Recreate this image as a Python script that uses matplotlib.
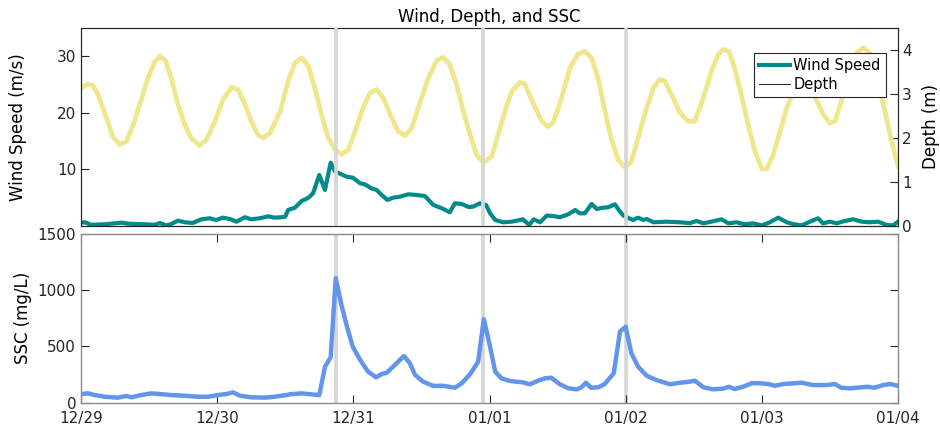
import numpy as np
import pandas as pd
import matplotlib
matplotlib.use('Agg')
import matplotlib.pyplot as plt
import matplotlib.dates as mdates
from matplotlib.lines import Line2D

plt.rcParams['font.family'] = 'DejaVu Sans'
plt.rcParams['font.size'] = 11

start = pd.Timestamp('2019-12-29')

# depth (m), right axis of top panel; time in hours after 12/29 00:00
depth_hours = [0.0, 1.2, 2.1, 3.0, 4.5, 5.6, 6.8, 8.0, 9.2, 10.6, 11.8, 13.0, 13.9, 14.9,
               15.9, 17.1, 18.3, 19.4, 20.9, 22.1, 23.6, 25.0, 26.5, 27.7, 28.9, 30.0, 31.2,
               32.1, 33.3, 35.1, 36.5, 37.7, 38.9, 40.1, 41.2, 42.4, 43.6, 44.8, 45.9, 47.1,
               48.3, 49.7, 50.9, 52.1, 53.3, 54.5, 55.9, 57.1, 58.3, 59.7, 61.2, 62.7, 63.8,
               65.0, 66.2, 67.4, 68.6, 69.7, 70.9, 72.4, 73.5, 74.7, 75.9, 77.4, 78.2, 79.7,
               81.2, 82.3, 83.2, 84.7, 86.2, 87.6, 88.8, 90.0, 91.2, 92.3, 93.5, 94.7, 95.9,
               97.0, 98.2, 99.7, 100.9, 102.0, 102.9, 104.1, 105.6, 107.0, 108.2, 109.7,
               111.1, 112.3, 113.2, 114.2, 115.2, 116.4, 117.6, 118.8, 120.0, 120.9, 122.0,
               123.2, 124.4, 125.5, 127.1, 128.5, 129.3, 130.8, 132.0, 132.9, 134.0, 135.5,
               136.7, 137.9, 139.0, 140.2, 141.7, 142.9, 144.0]
depth_m = [3.13, 3.23, 3.19, 2.98, 2.45, 2.03, 1.85, 1.92, 2.30, 2.87, 3.36, 3.74, 3.86, 3.76,
           3.36, 2.76, 2.30, 2.00, 1.83, 1.96, 2.38, 2.87, 3.15, 3.10, 2.76, 2.38, 2.07,
           2.00, 2.11, 2.60, 3.29, 3.71, 3.82, 3.63, 3.14, 2.53, 2.00, 1.73, 1.63, 1.73,
           2.15, 2.68, 3.02, 3.10, 2.91, 2.53, 2.15, 2.05, 2.23, 2.79, 3.36, 3.76, 3.83,
           3.67, 3.21, 2.60, 2.07, 1.62, 1.45, 1.58, 2.07, 2.60, 3.06, 3.27, 3.23, 2.79,
           2.38, 2.26, 2.34, 2.91, 3.59, 3.91, 3.97, 3.82, 3.33, 2.64, 1.96, 1.50, 1.33,
           1.46, 2.00, 2.68, 3.14, 3.33, 3.29, 2.98, 2.57, 2.38, 2.38, 2.91,
           3.51, 3.90, 4.01, 3.97, 3.59, 2.98, 2.30, 1.69, 1.30, 1.30, 1.62,
           2.15, 2.68, 3.05, 3.30, 3.10, 2.95, 2.55, 2.34, 2.38, 2.83, 3.51,
           3.93, 4.05, 3.93, 3.44, 2.60, 1.92, 1.36]

# wind speed (m/s), left axis of top panel
wind_hours = [0.0, 0.7, 1.8, 4.2, 7.1, 8.3, 11.2, 13.0, 13.9, 15.0, 15.9, 17.1, 18.3, 19.7,
              21.2, 22.7, 23.8, 25.0, 26.2, 27.4, 28.9, 30.0, 31.5, 33.0, 34.1, 35.3, 36.0,
              36.5, 37.7, 38.9, 40.1, 40.9, 42.0, 43.0, 44.0, 44.8, 45.5, 46.8, 47.9, 49.2,
              50.0, 51.2, 52.1, 53.0, 54.0, 55.0, 56.2, 57.7, 59.2, 60.6, 62.1, 63.6, 65.0,
              65.9, 67.1, 68.3, 69.1, 70.3, 71.4, 72.1, 73.0, 74.4, 75.9, 76.8, 77.9, 79.0,
              79.8, 80.9, 82.1, 83.2, 84.4, 85.9, 87.1, 87.9, 88.8, 90.0, 90.9, 92.0, 92.9,
              94.1, 95.0, 95.6, 96.6, 97.3, 98.2, 99.1, 99.7, 100.9, 103.2, 105.6, 107.3,
              108.5, 109.7, 111.1, 112.9, 114.1, 115.5, 117.0, 118.5, 120.0, 121.4, 122.9,
              124.4, 125.5, 127.0, 128.5, 129.9, 130.8, 132.0, 133.2, 134.6, 136.1, 137.6,
              139.0, 140.5, 142.0, 143.1, 144.0]
wind_ms = [0.58, 0.65, 0.2, 0.3, 0.58, 0.41, 0.3, 0.2, 0.53, 0.1, 0.35, 0.94, 0.65, 0.53,
           1.18, 1.36, 1.06, 1.47, 1.24, 0.76, 1.54, 1.18, 1.36, 1.71, 1.47, 1.54, 1.65,
           2.83, 3.24, 4.42, 5.0, 5.78, 9.02, 6.36, 11.19, 9.6, 9.31, 8.72, 8.54, 7.55,
           7.37, 6.66, 6.36, 5.48, 4.60, 5.0, 5.18, 5.6, 5.48, 5.30, 3.71, 3.13, 2.42,
           4.01, 3.89, 3.36, 3.42, 4.01, 3.71, 2.24, 1.06, 0.65, 0.76, 0.94, 1.18, 0.18,
           1.18, 0.65, 1.83, 1.77, 1.54, 2.07, 2.83, 2.24, 2.24, 3.89, 3.0, 3.24, 3.30,
           3.83, 2.53, 1.83, 1.36, 1.06, 1.47, 1.06, 1.24, 0.65, 0.76, 0.65, 0.5,
           0.88, 0.47, 0.76, 1.18, 0.47, 0.65, 0.3, 0.47, 0.1, 0.65, 1.47,
           0.65, 0.35, 0.1, 0.76, 1.36, 0.47, 0.76, 0.47, 0.88, 1.18, 0.76,
           0.65, 0.76, 0.18, 0.1, 0.76]

# suspended sediment concentration (mg/L), bottom panel
ssc_hours = [0.0, 1.2, 2.4, 4.2, 6.5, 8.0, 8.9, 10.6, 12.4, 13.9, 15.9, 18.3, 20.6, 22.4,
             24.1, 25.6, 26.8, 28.0, 30.0, 32.4, 34.1, 36.2, 36.8, 38.9, 40.4, 42.0, 43.0,
             44.0, 44.9, 45.9, 46.8, 47.9, 49.2, 50.6, 52.0, 53.0, 53.9, 55.0, 56.9, 57.9,
             58.9, 60.3, 62.1, 63.8, 65.9, 67.1, 68.6, 70.0, 71.0, 72.1, 73.0, 74.1, 75.6,
             77.9, 79.1, 80.6, 81.8, 82.9, 84.4, 85.9, 87.4, 88.2, 89.0, 89.9, 91.2, 92.3,
             93.9, 95.0, 96.0, 97.0, 98.2, 99.7, 101.4, 103.8, 105.6, 107.3, 108.2, 109.7,
             111.4, 113.2, 114.2, 115.2, 116.7, 118.2, 119.7, 121.1, 122.3, 123.8, 127.0,
             129.0, 131.4, 132.9, 134.0, 135.5, 138.7, 139.8, 141.4, 142.6, 144.0]
ssc_mgl = [77, 83, 68, 53, 45, 60, 48, 68, 83, 77, 68, 62, 53, 53,
           68, 77, 92, 62, 48, 45, 53, 68, 75, 83, 75, 68, 320,
           404, 1107, 869, 691, 498, 380, 276, 226, 255, 267, 320, 415, 356,
           246, 187, 149, 151, 133, 173, 255, 365, 742, 498, 276, 217, 193,
           181, 164, 196, 217, 222, 164, 128, 119, 137, 178, 133, 137, 166,
           262, 632, 676, 440, 320, 240, 202, 164, 178, 187, 196, 137,
           119, 125, 142, 122, 142, 173, 173, 166, 151, 166, 178,
           157, 157, 166, 133, 128, 142, 133, 157, 166, 151]

# event markers (hours after start)
event_hours = [44.9, 70.9, 96.0]

wind_color = '#008b8b'
depth_color = '#f0e68c'
ssc_color = '#6495ed'
event_color = '#d6d6d6'
ink = '#262626'


def to_time(hours):
    return start + pd.to_timedelta(np.asarray(hours, dtype=float), unit='h')


fig = plt.figure(figsize=(9.4, 4.32), dpi=100)
ax1 = fig.add_axes([0.0862, 0.4769, 0.8691, 0.4583])
ax1r = ax1.twinx()
ax2 = fig.add_axes([0.0862, 0.0678, 0.8691, 0.3905])

xmin, xmax = start, start + pd.Timedelta(days=6)

# top panel
ax1.plot(to_time(wind_hours), wind_ms, color=wind_color, lw=3.0, zorder=2)
ax1r.plot(to_time(depth_hours), depth_m, color=depth_color, lw=3.4, zorder=2)
for t in to_time(event_hours):
    ax1r.axvline(t, color=event_color, lw=2.6, zorder=4)

ax1.set_xlim(xmin, xmax)
ax1.set_ylim(0, 35)
ax1.set_yticks([10, 20, 30])
ax1r.set_ylim(0, 4.5)
ax1r.set_yticks([0, 1, 2, 3, 4])
ax1.set_xticks([])
ax1.tick_params(axis='y', direction='in', length=5.8, width=0.8, pad=3.5,
                colors=ink, labelsize=11)
ax1r.tick_params(axis='y', direction='in', length=5.8, width=0.8, pad=3,
                 colors=ink, labelsize=11)
ax1.set_ylabel('Wind Speed (m/s)', fontsize=12, color='black')
ax1.yaxis.set_label_coords(-0.066, 0.5)
ax1r.set_ylabel('Depth (m)', fontsize=12, color='black')
ax1r.yaxis.set_label_coords(1.029, 0.5)
ax1.set_title('Wind, Depth, and SSC', fontsize=12, pad=4)
for ax in (ax1, ax1r):
    for s in ax.spines.values():
        s.set_color(ink)
        s.set_linewidth(0.8)

handles = [Line2D([], [], color=wind_color, lw=3.0),
           Line2D([], [], color='black', lw=0.6)]
leg = ax1r.legend(handles, ['Wind Speed', 'Depth'], loc='upper right',
                  bbox_to_anchor=(0.985, 0.874), borderaxespad=0, fancybox=False,
                  framealpha=1, edgecolor=ink, fontsize=10.5, handlelength=2.1,
                  handletextpad=0.25, borderpad=0.35, labelspacing=0.25)
leg.get_frame().set_linewidth(0.8)
leg.set_zorder(10)

# bottom panel
for t in to_time(event_hours):
    ax2.axvline(t, color=event_color, lw=2.6, zorder=1)
ax2.plot(to_time(ssc_hours), ssc_mgl, color=ssc_color, lw=3.2, zorder=2)
ax2.set_xlim(xmin, xmax)
ax2.set_ylim(0, 1500)
ax2.set_yticks([0, 500, 1000, 1500])
ax2.xaxis.set_major_locator(mdates.DayLocator())
ax2.xaxis.set_major_formatter(mdates.DateFormatter('%m/%d'))
ax2.tick_params(axis='both', direction='in', length=5.8, width=0.8,
                colors=ink, labelsize=11, top=True, right=True)
ax2.tick_params(axis='x', pad=6)
ax2.tick_params(axis='y', pad=3.5)
ax2.set_ylabel('SSC (mg/L)', fontsize=12, color='black')
ax2.yaxis.set_label_coords(-0.060, 0.5)
for s in ax2.spines.values():
    s.set_color('#8a8a8a')
    s.set_linewidth(1.0)

fig.savefig('out.png', dpi=100)
